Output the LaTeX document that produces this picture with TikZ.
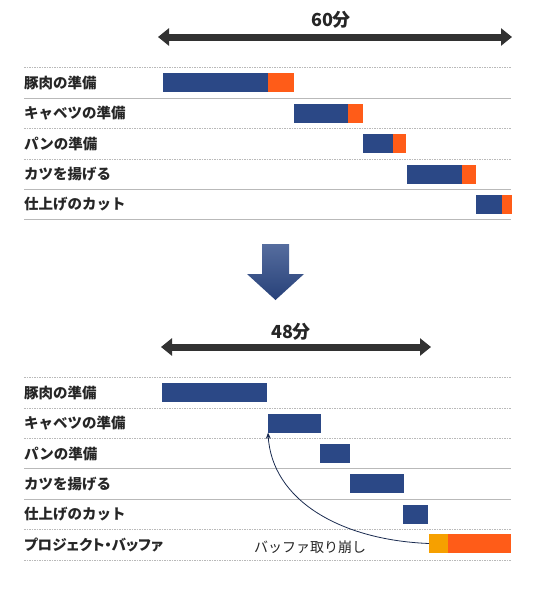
\documentclass[tikz,border=0pt]{standalone}
\usepackage{fontspec}
\setmainfont{Noto Sans CJK JP}
\newfontfamily\proptext{Noto Sans CJK JP}[RawFeature=+palt]
\usetikzlibrary{arrows.meta}

\definecolor{barblue}{RGB}{43,72,134}
\definecolor{barorange}{RGB}{255,92,24}
\definecolor{bufyellow}{RGB}{246,160,0}
\definecolor{rulegray}{RGB}{185,185,185}
\definecolor{spanarrow}{RGB}{50,50,50}

\begin{document}
\begin{tikzpicture}[x=1pt,y=-1pt,
    lbl/.style={anchor=west,inner sep=0pt,font=\bfseries\fontsize{14.5}{15}\selectfont,text=black!85},
    blue/.style={anchor=west,draw=none,fill=barblue,minimum height=19pt,inner sep=0pt},
    orng/.style={anchor=west,draw=none,fill=barorange,minimum height=19pt,inner sep=0pt},
    span/.style={draw=spanarrow,line width=7pt,{Triangle[width=17pt,length=11pt]}-{Triangle[width=17pt,length=11pt]}},
    rl/.style={draw=rulegray,line width=0.6pt},
    rld/.style={draw=rulegray,line width=0.6pt,dash pattern=on 1.5pt off 1pt}]
  \useasboundingbox (0,0) rectangle (550,600);

  % before: 60 minutes
  \coordinate (sa) at (158,37);
  \coordinate (sb) at (512,37);
  \draw[span] (sa) -- (sb);
  \node[font=\bfseries\fontsize{18}{18}\selectfont,text=black!85] (m60) at (331,20) {60分};

  \draw[rld] (24,67)--(511,67);
  \draw[rl] (24,98)--(511,98);
  \draw[rld] (24,128)--(511,128);
  \draw[rld] (24,159)--(511,159);
  \draw[rl] (24,189)--(511,189);
  \draw[rl] (24,219)--(511,219);

  \node[lbl] (a1) at (24,83) {豚肉の準備};
  \node[lbl] (a2) at (24,113) {キャベツの準備};
  \node[lbl] (a3) at (24,144) {パンの準備};
  \node[lbl] (a4) at (24,174) {カツを揚げる};
  \node[lbl] (a5) at (24,204) {仕上げのカット};

  % orange part first, blue bar laid over its left edge
  \node[orng,minimum width=27pt] (q1) at (267,82.5) {};
  \node[blue,minimum width=105pt] (p1) at (163,82.5) {};
  \node[orng,minimum width=16pt] (q2) at (347,113.5) {};
  \node[blue,minimum width=54pt] (p2) at (294,113.5) {};
  \node[orng,minimum width=14pt] (q3) at (392,143.5) {};
  \node[blue,minimum width=30pt] (p3) at (363,143.5) {};
  \node[orng,minimum width=15pt] (q4) at (461,174) {};
  \node[blue,minimum width=55pt] (p4) at (407,174) {};
  \node[orng,minimum width=11pt] (q5) at (501,204) {};
  \node[blue,minimum width=26pt] (p5) at (476,204) {};

  % down arrow
  \shade[top color=barblue!80!white,bottom color=barblue!90!black]
    (262,244)--(289,244)--(289,274)--(304,274)--(275.5,300)--(247,274)--(262,274)--cycle;

  % after: 48 minutes
  \coordinate (sc) at (161,347);
  \coordinate (sd) at (431,347);
  \draw[span] (sc) -- (sd);
  \node[font=\bfseries\fontsize{18}{18}\selectfont,text=black!85] (m48) at (291,332) {48分};

  \draw[rld] (24,377)--(511,377);
  \draw[rld] (24,408)--(511,408);
  \draw[rld] (24,438)--(511,438);
  \draw[rl] (24,468)--(511,468);
  \draw[rl] (24,499)--(511,499);
  \draw[rld] (24,529)--(511,529);
  \draw[rld] (24,560)--(511,560);

  \node[lbl] (b1) at (24,393) {豚肉の準備};
  \node[lbl] (b2) at (24,423) {キャベツの準備};
  \node[lbl] (b3) at (24,454) {パンの準備};
  \node[lbl] (b4) at (24,484) {カツを揚げる};
  \node[lbl] (b5) at (24,514) {仕上げのカット};
  \node[lbl,font=\proptext\bfseries\fontsize{14.5}{15}\selectfont] (b6) at (24,545) {プロジェクト・バッファ};

  \node[blue,minimum width=105pt] (k1) at (162,392.5) {};
  \node[blue,minimum width=53pt] (k2) at (268,423) {};
  \node[blue,minimum width=30pt] (k3) at (320,453) {};
  \node[blue,minimum width=54pt] (k4) at (350,483.5) {};
  \node[blue,minimum width=25pt] (k5) at (403,514) {};
  \node[orng,minimum width=64pt] (u2) at (447,543.5) {};
  \node[anchor=west,fill=bufyellow,minimum height=19pt,minimum width=19pt,inner sep=0pt] (u1) at (429,543.5) {};

  \node[font=\fontsize{14}{14}\selectfont,text=black!85] (cut) at (310,547) {バッファ取り崩し};
  \draw[draw=barblue!60!black,line width=0.8pt,-{Stealth[length=6pt,width=5pt]}]
    (u1.west) .. controls (340,540) and (272,500) .. (k2.south west);
\end{tikzpicture}
\end{document}
